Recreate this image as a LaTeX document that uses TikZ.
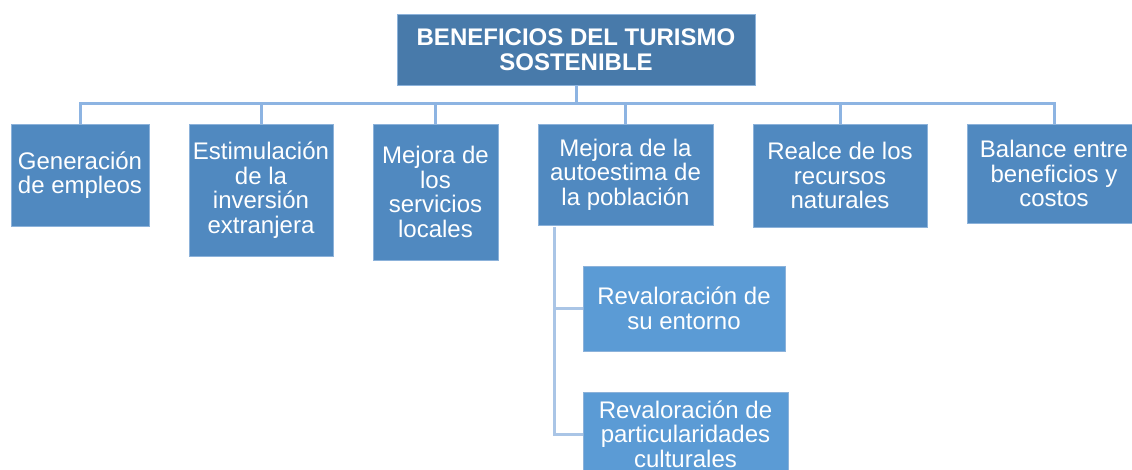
\documentclass[tikz,border=0pt]{standalone}
\usepackage{fontspec}
\setmainfont{Liberation Sans}
\definecolor{topfill}{RGB}{72,122,170}
\definecolor{childfill}{RGB}{80,137,192}
\definecolor{subfill}{RGB}{91,155,213}
\definecolor{edgecol}{RGB}{140,178,218}
\definecolor{busline}{RGB}{141,180,226}
\definecolor{subline}{RGB}{170,197,230}
\begin{document}
\begin{tikzpicture}[x=1pt,y=-1pt,
  boxbase/.style={draw=edgecol, line width=0.8pt, text=white, align=center, inner sep=0pt,
    font=\fontsize{24}{24.5}\selectfont},
  topbox/.style={boxbase, fill=topfill, font=\fontsize{24}{25.5}\selectfont\bfseries},
  childbox/.style={boxbase, fill=childfill},
  subbox/.style={boxbase, fill=subfill},
  conn/.style={draw=busline, line width=3pt},
  subconn/.style={draw=subline, line width=3pt}]
\useasboundingbox (0,0) rectangle (1132,470);
\clip (0,0) rectangle (1132,470);
\node[topbox, minimum width=358pt, minimum height=71pt] (top) at (576,49.5) {BENEFICIOS DEL TURISMO\\SOSTENIBLE};
\node[childbox, minimum width=138pt, minimum height=102pt] (c1) at (80,175) {Generación\\de empleos};
\node[childbox, minimum width=144pt, minimum height=132pt] (c2) at (261,190) {Estimulación\\de la\\inversión\\extranjera};
\node[childbox, minimum width=125pt, minimum height=136pt] (c3) at (435.5,192) {Mejora de\\los\\servicios\\locales};
\node[childbox, minimum width=175pt, minimum height=101pt] (c4) at (625.5,174.5) {Mejora de la\\autoestima de\\la población};
\node[childbox, minimum width=174pt, minimum height=103pt] (c5) at (840,175.5) {Realce de los\\recursos\\naturales};
\node[childbox, minimum width=174pt, minimum height=99pt] (c6) at (1054,173.5) {Balance entre\\beneficios y\\costos};
\node[subbox, minimum width=202pt, minimum height=85pt] (s1) at (684,308.5) {Revaloración de\\su entorno};
\node[subbox, minimum width=205pt, minimum height=84pt] (s2) at (685.5,434) {Revaloración de\\particularidades\\culturales};
\coordinate (busy) at (0,104);
\coordinate (sx) at (554,227);
\draw[conn] (top.south) -- (top.south |- busy);
\draw[conn] (c1.north) -- (c1.north |- busy) -- (c6.north |- busy) -- (c6.north);
\draw[conn] (c2.north) -- (c2.north |- busy);
\draw[conn] (c3.north) -- (c3.north |- busy);
\draw[conn] (c4.north) -- (c4.north |- busy);
\draw[conn] (c5.north) -- (c5.north |- busy);
\draw[subconn] (sx) |- (s1.west);
\draw[subconn] (sx) |- (s2.west);
\end{tikzpicture}
\end{document}
